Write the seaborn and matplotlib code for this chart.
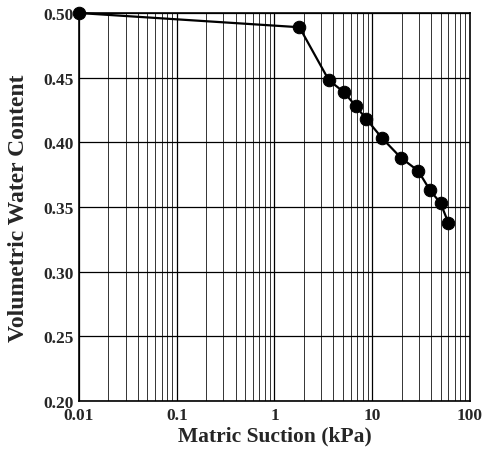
import matplotlib
matplotlib.use("Agg")
import matplotlib.pyplot as plt
import seaborn as sns
import pandas as pd
import numpy as np
from matplotlib.ticker import LogLocator, FixedLocator, FixedFormatter

suction_kpa = [0.01, 1.8, 3.6, 5.1, 6.8, 8.7, 12.7, 19.7, 29.5, 39, 50, 60]
water_content = [0.500, 0.489, 0.448, 0.439, 0.428, 0.418, 0.403, 0.388, 0.378, 0.363, 0.353, 0.338]
x_ticks = [0.01, 0.1, 1, 10, 100]
x_tick_labels = ["0.01", "0.1", "1", "10", "100"]
y_ticks = [0.20, 0.25, 0.30, 0.35, 0.40, 0.45, 0.50]
y_tick_labels = ["0.20", "0.25", "0.30", "0.35", "0.40", "0.45", "0.50"]

sns.set_style("white")
plt.rcParams['font.family'] = ['Liberation Serif', 'DejaVu Serif']

df = pd.DataFrame({"suction": suction_kpa, "theta": water_content})

fig = plt.figure(figsize=(4.86, 4.52), dpi=100)
ax = fig.add_axes([0.1626, 0.1106, 0.967 - 0.1626, 0.969 - 0.1106])

ax.set_xscale("log")
ax.set_xlim(0.01, 100)
ax.set_ylim(0.20, 0.50)

ax.xaxis.set_major_locator(FixedLocator(x_ticks))
ax.xaxis.set_major_formatter(FixedFormatter(x_tick_labels))
ax.xaxis.set_minor_locator(LogLocator(base=10, subs=np.arange(2, 10)))
ax.yaxis.set_major_locator(FixedLocator(y_ticks))
ax.yaxis.set_major_formatter(FixedFormatter(y_tick_labels))

ax.grid(True, which="major", axis="both", color="black", linewidth=0.9)
ax.grid(True, which="minor", axis="x", color="#333333", linewidth=0.7)
ax.set_axisbelow(True)

sns.lineplot(data=df, x="suction", y="theta", ax=ax, color="black",
             linewidth=1.6, marker="o", markersize=9,
             markeredgecolor="black", markerfacecolor="black", clip_on=False, zorder=5)

for s in ax.spines.values():
    s.set_color("black")
    s.set_linewidth(1.2)

ax.tick_params(axis="both", which="both", length=0, pad=4)
for lab in ax.get_xticklabels() + ax.get_yticklabels():
    lab.set_fontweight("bold")
    lab.set_fontsize(12.5)

ax.set_xlabel("Matric Suction (kPa)", fontsize=15.5, fontweight="bold", labelpad=2)
ax.set_ylabel("Volumetric Water Content", fontsize=17, fontweight="bold", labelpad=10)

fig.savefig("out.png", dpi=100)
